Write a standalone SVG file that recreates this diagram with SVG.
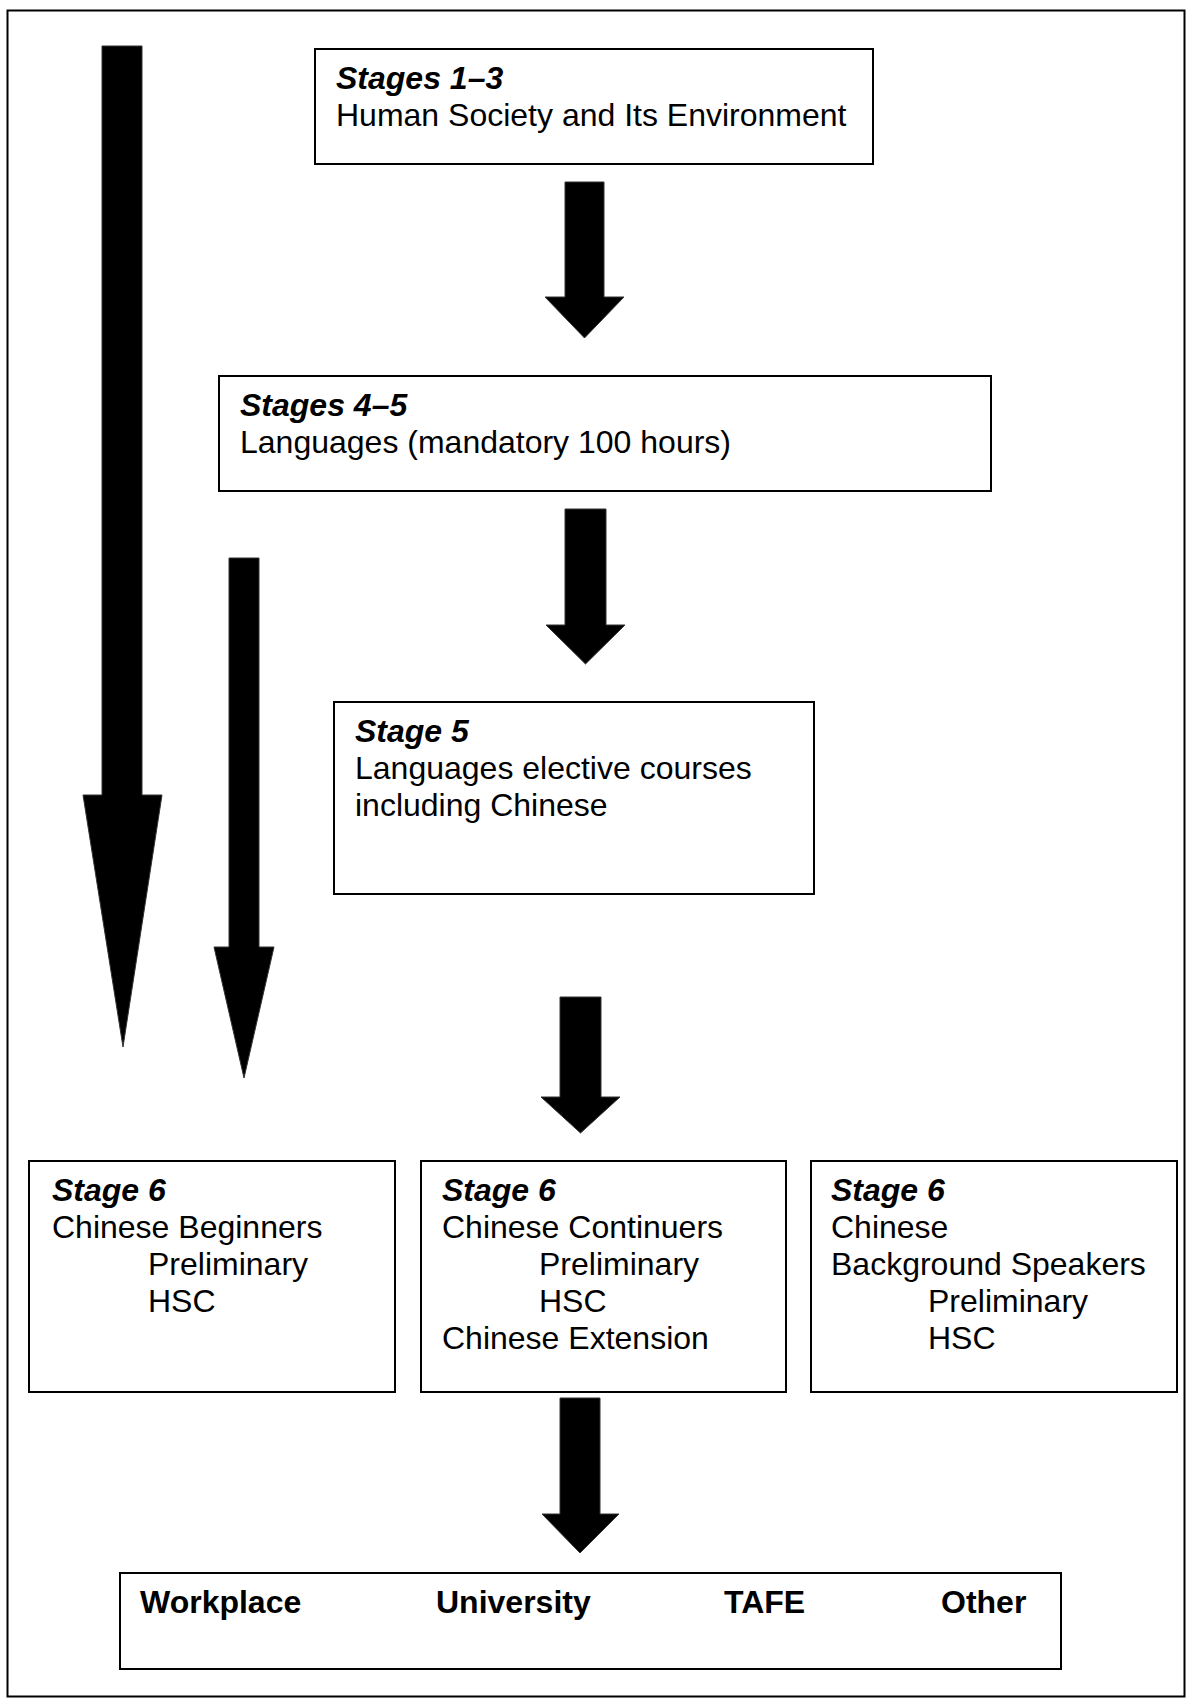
<svg xmlns="http://www.w3.org/2000/svg" width="1188" height="1699" viewBox="0 0 1188 1699">
<style>
.box{fill:#fff;stroke:#000;stroke-width:2}
.t{font-family:"Liberation Sans",Arial,sans-serif;font-size:32px;fill:#000}
.h{font-weight:bold;font-style:italic}
.b{font-weight:bold}
.arr{fill:#000;stroke:#333;stroke-width:1}
</style>
<rect x="0" y="0" width="1188" height="1699" fill="#fff"/>
<rect id="frame" x="7.5" y="10.5" width="1177" height="1686" fill="none" stroke="#000" stroke-width="2"/>

<g id="connectors">
  <polygon class="arr" points="102,46 142,46 142,795 162,795 123,1047 83,795 102,795"/>
  <polygon class="arr" points="229,558 259,558 259,947 274,947 244,1078 214,947 229,947"/>
  <polygon class="arr" points="565,182 604,182 604,297 624,297 584.5,338 545,297 565,297"/>
  <polygon class="arr" points="565,509 606,509 606,625 625,625 585.5,664 546,625 565,625"/>
  <polygon class="arr" points="560,997 601,997 601,1097 620,1097 580.5,1133 541,1097 560,1097"/>
  <polygon class="arr" points="560,1398 600,1398 600,1514 619,1514 580,1553 542,1514 560,1514"/>
</g>

<g id="stages1-3">
  <rect class="box" x="315" y="49" width="558" height="115"/>
  <text class="t h" x="336" y="89">Stages 1–3</text>
  <text class="t" x="336" y="126">Human Society and Its Environment</text>
</g>

<g id="stages4-5">
  <rect class="box" x="219" y="376" width="772" height="115"/>
  <text class="t h" x="240" y="416">Stages 4–5</text>
  <text class="t" x="240" y="453">Languages (mandatory 100 hours)</text>
</g>

<g id="stage5">
  <rect class="box" x="334" y="702" width="480" height="192"/>
  <text class="t h" x="355" y="742">Stage 5</text>
  <text class="t" x="355" y="779">Languages elective courses</text>
  <text class="t" x="355" y="816">including Chinese</text>
</g>

<g id="stage6-beginners">
  <rect class="box" x="29" y="1161" width="366" height="231"/>
  <text class="t h" x="52" y="1201">Stage 6</text>
  <text class="t" x="52" y="1238">Chinese Beginners</text>
  <text class="t" x="148" y="1275">Preliminary</text>
  <text class="t" x="148" y="1312">HSC</text>
</g>

<g id="stage6-continuers">
  <rect class="box" x="421" y="1161" width="365" height="231"/>
  <text class="t h" x="442" y="1201">Stage 6</text>
  <text class="t" x="442" y="1238">Chinese Continuers</text>
  <text class="t" x="539" y="1275">Preliminary</text>
  <text class="t" x="539" y="1312">HSC</text>
  <text class="t" x="442" y="1349">Chinese Extension</text>
</g>

<g id="stage6-background">
  <rect class="box" x="811" y="1161" width="366" height="231"/>
  <text class="t h" x="831" y="1201">Stage 6</text>
  <text class="t" x="831" y="1238">Chinese</text>
  <text class="t" x="831" y="1275">Background Speakers</text>
  <text class="t" x="928" y="1312">Preliminary</text>
  <text class="t" x="928" y="1349">HSC</text>
</g>

<g id="destinations">
  <rect class="box" x="120" y="1573" width="941" height="96"/>
  <text class="t b" x="140" y="1613">Workplace</text>
  <text class="t b" x="436" y="1613">University</text>
  <text class="t b" x="724" y="1613">TAFE</text>
  <text class="t b" x="941" y="1613">Other</text>
</g>
</svg>
